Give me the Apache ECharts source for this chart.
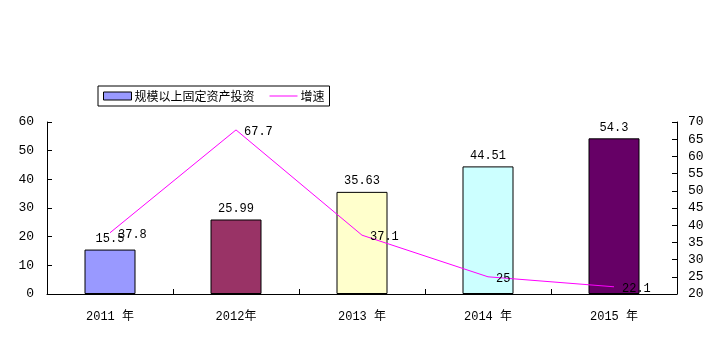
<!DOCTYPE html>
<html>
<head>
<meta charset="utf-8">
<script src="https://cdn.jsdelivr.net/npm/echarts@6/dist/echarts.min.js"></script>
<style>
  html, body { margin: 0; padding: 0; background: #fff; }
  #chart { width: 719px; height: 339px; }
</style>
</head>
<body>
<div id="chart"></div>
<script>
// Fixed-asset investment above designated size (left axis) and its growth rate (right axis)
const categories = ['2011 年', '2012年', '2013 年', '2014 年', '2015 年'];
const investment = [15.5, 25.99, 35.63, 44.51, 54.3];
const growth = [37.8, 67.7, 37.1, 25, 22.1];
const barColors = ['#9999FF', '#993366', '#FFFFCC', '#CCFFFF', '#660066'];
const leftTicks = { min: 0, max: 60, interval: 10 };
const rightTicks = { min: 20, max: 70, interval: 5 };

const FONT = "'Liberation Mono', 'Noto Sans CJK SC', monospace";
const textBase = { color: '#000', fontFamily: FONT, fontSize: 12 };

const chart = echarts.init(document.getElementById('chart'), null, { renderer: 'canvas' });

const axisCommon = {
  axisLine: { show: true, lineStyle: { color: '#000', width: 1 } },
  axisTick: { show: true, inside: true, length: 5, lineStyle: { color: '#000' } },
  splitLine: { show: false }
};

chart.setOption({
  animation: false,
  backgroundColor: '#fff',
  textStyle: textBase,
  legend: {
    left: 98,
    top: 86,
    padding: [4, 5, 4, 5],
    itemGap: 15,
    itemWidth: 28,
    itemHeight: 8,
    borderColor: '#000',
    borderWidth: 1,
    textStyle: { color: '#000', fontFamily: "'Noto Sans CJK SC'", fontSize: 12, padding: [0, 0, 0, -2] },
    data: [
      { name: '规模以上固定资产投资', icon: 'rect', itemStyle: { color: '#9999FF', borderColor: '#000', borderWidth: 1 } },
      { name: '增速', icon: 'path://M0,0 L28,0 L28,1 L0,1 Z', itemStyle: { color: '#FF00FF' } }
    ]
  },
  grid: { left: 47, right: 42, top: 122, bottom: 45 },
  xAxis: {
    type: 'category',
    data: categories,
    ...axisCommon,
    axisLabel: { ...textBase, margin: 17 }
  },
  yAxis: [
    {
      type: 'value',
      position: 'left',
      ...leftTicks,
      ...axisCommon,
      axisLabel: { ...textBase, fontSize: 13, margin: 13 }
    },
    {
      type: 'value',
      position: 'right',
      ...rightTicks,
      ...axisCommon,
      axisLabel: { ...textBase, fontSize: 13, margin: 11 }
    }
  ],
  series: [
    {
      name: '规模以上固定资产投资',
      type: 'bar',
      yAxisIndex: 0,
      barWidth: 51,
      itemStyle: { color: '#9999FF', borderColor: '#000', borderWidth: 1 },
      data: investment.map((v, i) => ({ value: v, itemStyle: { color: barColors[i] } })),
      label: { show: true, position: 'top', distance: 5, ...textBase }
    },
    {
      name: '增速',
      type: 'line',
      yAxisIndex: 1,
      data: growth,
      symbol: 'circle',
      symbolSize: 0,
      lineStyle: { color: '#FF00FF', width: 1 },
      itemStyle: { color: '#FF00FF' },
      label: { show: true, position: 'right', distance: 8, offset: [0, 2], ...textBase },
      z: 3
    }
  ]
});
</script>
</body>
</html>
